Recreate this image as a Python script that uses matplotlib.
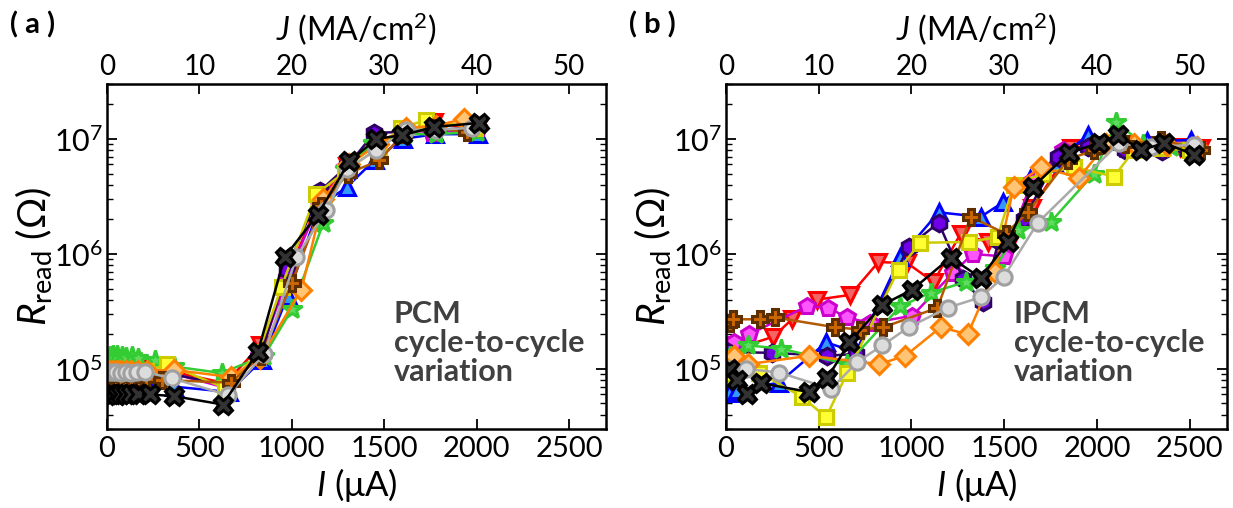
import matplotlib
matplotlib.use("Agg")
import matplotlib.pyplot as plt
from matplotlib.ticker import LogLocator, NullFormatter, FixedLocator

plt.rcParams['font.family'] = ['Lato', 'DejaVu Sans']
plt.rcParams['mathtext.fontset'] = 'custom'
plt.rcParams['mathtext.rm'] = 'Lato'
plt.rcParams['mathtext.it'] = 'Lato:italic'
plt.rcParams['mathtext.bf'] = 'Lato:bold'

# ---- panel (a): PCM, current (uA) and read resistance (Ohm) per cycle ----
a_red_I = [10, 30, 50, 75, 100, 130, 165, 210, 350, 640, 830, 985, 1150, 1300, 1460, 1610, 1770, 2000]
a_red_R = [1.1e5, 1.08e5, 1.1e5, 1.05e5, 1.05e5, 1.0e5, 1.0e5, 1.0e5, 9.5e4, 7.5e4, 1.6e5, 7.0e5, 3.0e6, 5.8e6, 9.5e6, 1.15e7, 1.4e7, 1.2e7]
a_blue_I = [12, 32, 52, 78, 102, 132, 168, 215, 365, 660, 840, 977, 1150, 1296, 1450, 1600, 1775, 2010]
a_blue_R = [8.0e4, 8.2e4, 8.0e4, 7.8e4, 8.0e4, 7.9e4, 7.7e4, 7.6e4, 7.0e4, 6.3e4, 1.2e5, 4.3e5, 2.6e6, 3.8e6, 6.6e6, 1.0e7, 1.1e7, 1.1e7]
a_mag_I = [8, 28, 48, 72, 98, 128, 160, 205, 345, 650, 825, 975, 1145, 1290, 1455, 1605, 1760, 2005]
a_mag_R = [1.05e5, 1.02e5, 1.0e5, 1.0e5, 1.0e5, 9.8e4, 9.6e4, 9.5e4, 9.2e4, 6.8e4, 1.3e5, 6.2e5, 2.7e6, 5.6e6, 9.8e6, 1.1e7, 1.12e7, 1.25e7]
a_pur_I = [10, 30, 50, 75, 100, 130, 165, 210, 355, 645, 835, 972, 1150, 1300, 1447, 1600, 1770, 1995]
a_pur_R = [1.0e5, 1.0e5, 1.02e5, 1.0e5, 1.0e5, 1.0e5, 1.0e5, 9.8e4, 9.0e4, 7.2e4, 1.35e5, 7.3e5, 3.5e6, 5.8e6, 1.13e7, 1.15e7, 1.2e7, 1.25e7]
a_grn_I = [15, 35, 55, 80, 105, 135, 170, 260, 360, 620, 850, 1000, 1170, 1285, 1440, 1610, 1780, 2000]
a_grn_R = [1.3e5, 1.32e5, 1.33e5, 1.3e5, 1.28e5, 1.3e5, 1.25e5, 1.2e5, 1.05e5, 9.2e4, 1.3e5, 3.3e5, 1.85e6, 5.5e6, 9.3e6, 1.1e7, 1.1e7, 1.15e7]
a_yel_I = [10, 30, 50, 75, 100, 130, 165, 210, 324, 640, 820, 945, 1130, 1290, 1470, 1590, 1728, 1990]
a_yel_R = [9.0e4, 9.2e4, 9.0e4, 9.0e4, 9.2e4, 9.0e4, 9.0e4, 9.5e4, 1.1e5, 6.8e4, 1.4e5, 5.2e5, 3.3e6, 5.2e6, 8.5e6, 1.25e7, 1.46e7, 1.25e7]
a_org_I = [12, 32, 52, 78, 102, 132, 168, 215, 360, 670, 830, 1052, 1170, 1310, 1465, 1620, 1780, 1934]
a_org_R = [9.5e4, 9.6e4, 9.5e4, 9.5e4, 9.6e4, 9.5e4, 9.5e4, 9.6e4, 9.8e4, 8.5e4, 1.25e5, 4.9e5, 3.0e6, 6.0e6, 9.0e6, 1.25e7, 1.3e7, 1.5e7]
a_brn_I = [10, 30, 50, 75, 100, 130, 165, 210, 297, 670, 835, 1000, 1160, 1302, 1474, 1600, 1770, 1950]
a_brn_R = [8.5e4, 8.6e4, 8.5e4, 8.4e4, 8.5e4, 8.4e4, 8.3e4, 8.2e4, 8.0e4, 7.6e4, 1.3e5, 5.6e5, 2.6e6, 5.0e6, 6.5e6, 1.1e7, 1.25e7, 1.15e7]
a_gry_I = [10, 30, 50, 75, 100, 130, 160, 205, 350, 655, 850, 1025, 1187, 1300, 1457, 1620, 1780, 1977]
a_gry_R = [9.4e4, 9.4e4, 9.4e4, 9.3e4, 9.4e4, 9.3e4, 9.4e4, 9.4e4, 8.3e4, 5.9e4, 1.35e5, 9.4e5, 2.4e6, 5.5e6, 8.0e6, 1.2e7, 1.2e7, 1.25e7]
a_blk_I = [10, 30, 55, 75, 100, 130, 165, 230, 360, 626, 816, 961, 1140, 1312, 1458, 1598, 1771, 2014]
a_blk_R = [6.0e4, 6.0e4, 5.9e4, 6.0e4, 6.1e4, 6.0e4, 6.0e4, 6.0e4, 5.8e4, 4.9e4, 1.4e5, 9.4e5, 2.2e6, 6.4e6, 1.0e7, 1.08e7, 1.27e7, 1.38e7]

# ---- panel (b): IPCM ----
b_red_I = [20, 80, 254, 356, 490, 670, 822, 978, 1119, 1265, 1410, 1535, 1650, 1860, 2000, 2150, 2300, 2450, 2560]
b_red_R = [1.5e5, 1.55e5, 1.9e5, 2.7e5, 4.0e5, 4.4e5, 8.5e5, 8.3e5, 5.7e5, 1.5e6, 1.27e6, 1.3e6, 2.5e6, 8.3e6, 8.8e6, 9.0e6, 8.8e6, 8.5e6, 8.3e6]
b_blue_I = [16, 60, 286, 540, 700, 940, 1146, 1373, 1492, 1640, 1767, 1951, 2100, 2270, 2508]
b_blue_R = [6.2e4, 6.5e4, 7.6e4, 1.7e5, 1.4e5, 9.4e5, 2.3e6, 2.1e6, 2.8e6, 4.5e6, 6.2e6, 1.08e7, 9.5e6, 9.5e6, 9.8e6]
b_mag_I = [10, 43, 124, 437, 551, 653, 778, 1005, 1222, 1330, 1497, 1650, 1816, 1990, 2150, 2330, 2500]
b_mag_R = [1.6e5, 1.7e5, 2.0e5, 3.5e5, 3.4e5, 2.8e5, 2.5e5, 2.9e5, 6.8e5, 1.0e6, 9.5e5, 4.3e6, 8.0e6, 8.5e6, 8.2e6, 8.5e6, 8.0e6]
b_pur_I = [10, 249, 546, 700, 984, 1146, 1280, 1384, 1470, 1605, 1788, 1950, 2150, 2350, 2490]
b_pur_R = [1.4e5, 1.38e5, 1.3e5, 1.35e5, 1.15e6, 1.87e6, 6.0e5, 3.8e5, 1.3e6, 2.0e6, 7.0e6, 8.5e6, 8.0e6, 7.8e6, 7.8e6]
b_grn_I = [20, 120, 297, 653, 940, 1103, 1292, 1450, 1573, 1751, 1984, 2103, 2250, 2400, 2540]
b_grn_R = [1.3e5, 1.6e5, 1.5e5, 1.1e5, 3.5e5, 4.6e5, 5.7e5, 7.5e5, 1.6e6, 1.9e6, 5.0e6, 1.4e7, 9.0e6, 8.5e6, 7.8e6]
b_yel_I = [10, 178, 410, 540, 654, 930, 1048, 1308, 1464, 1551, 1708, 1876, 2092, 2200, 2350, 2500]
b_yel_R = [9.0e4, 9.3e4, 5.7e4, 3.8e4, 9.3e4, 7.3e5, 1.25e6, 1.27e6, 1.4e6, 4.0e6, 5.0e6, 5.7e6, 4.7e6, 8.0e6, 8.3e6, 8.0e6]
b_org_I = [43, 120, 448, 827, 967, 1157, 1303, 1450, 1551, 1697, 1903, 2050, 2200, 2380, 2540]
b_org_R = [1.3e5, 1.1e5, 1.3e5, 1.1e5, 1.3e5, 2.3e5, 2.0e5, 7.0e5, 3.8e6, 5.7e6, 4.6e6, 9.0e6, 9.0e6, 8.8e6, 8.5e6]
b_brn_I = [20, 38, 184, 265, 589, 724, 848, 1140, 1319, 1508, 1627, 1843, 1984, 2150, 2346, 2562]
b_brn_R = [2.5e5, 2.7e5, 2.7e5, 2.8e5, 2.3e5, 2.2e5, 2.3e5, 3.4e5, 2.1e6, 1.5e6, 2.3e6, 6.6e6, 8.0e6, 9.0e6, 9.8e6, 8.0e6]
b_gry_I = [20, 108, 286, 567, 708, 843, 984, 1195, 1373, 1497, 1681, 2119, 2290, 2524]
b_gry_R = [1.0e5, 1.0e5, 9.3e4, 6.7e4, 1.15e5, 1.6e5, 2.3e5, 3.4e5, 4.2e5, 6.3e5, 1.87e6, 9.2e6, 8.5e6, 8.9e6]
b_blk_I = [16, 59, 113, 189, 448, 546, 665, 843, 1005, 1211, 1373, 1519, 1654, 1849, 2011, 2114, 2238, 2362, 2524]
b_blk_R = [1.0e5, 8.0e4, 6.0e4, 7.5e4, 6.3e4, 8.3e4, 1.7e5, 3.6e5, 4.9e5, 9.3e5, 6.2e5, 1.27e6, 3.8e6, 7.6e6, 9.2e6, 1.08e7, 8.0e6, 9.2e6, 7.3e6]

# marker, edge colour, face colour, marker size
styles = [
    ('v', '#ff0000', '#f26565', 12),
    ('^', '#0000ff', '#3399ff', 12),
    ('p', '#cc00cc', '#ff55ff', 12),
    ('h', '#2e0066', '#7000e8', 12),
    ('*', '#33cc33', '#5ddc5d', 15),
    ('s', '#cccc00', '#ffff33', 10),
    ('D', '#ff7f00', '#ffc474', 10),
    ('P', '#5c2e00', '#cc6600', 12),
    ('o', '#a0a0a0', '#dcdcdc', 11),
    ('X', '#000000', '#333333', 13),
]
line_cols = ['#ff0000', '#0000ff', '#cc00cc', '#2e0066', '#33cc33', '#cccc00', '#ff7f00', '#b35900', '#aaaaaa', '#000000']

panel_a = [(a_red_I, a_red_R), (a_blue_I, a_blue_R), (a_mag_I, a_mag_R), (a_pur_I, a_pur_R),
           (a_grn_I, a_grn_R), (a_yel_I, a_yel_R), (a_org_I, a_org_R), (a_brn_I, a_brn_R),
           (a_gry_I, a_gry_R), (a_blk_I, a_blk_R)]
panel_b = [(b_red_I, b_red_R), (b_blue_I, b_blue_R), (b_mag_I, b_mag_R), (b_pur_I, b_pur_R),
           (b_grn_I, b_grn_R), (b_yel_I, b_yel_R), (b_org_I, b_org_R), (b_brn_I, b_brn_R),
           (b_gry_I, b_gry_R), (b_blk_I, b_blk_R)]

fig = plt.figure(figsize=(12.33, 5.08), dpi=100)
ax_a = fig.add_axes([0.0868, 0.1555, 0.4047, 0.679])
ax_b = fig.add_axes([0.5888, 0.1555, 0.4062, 0.679])

for ax, data, label, tag in [(ax_a, panel_a, 'PCM\ncycle-to-cycle\nvariation', '( a )'),
                             (ax_b, panel_b, 'IPCM\ncycle-to-cycle\nvariation', '( b )')]:
    for (I, R), (m, ec, fc, ms), lc in zip(data, styles, line_cols):
        ax.plot(I, R, '-', color=lc, lw=1.8, marker=m, ms=ms, mfc=fc, mec=ec, mew=2.2)
    ax.set_yscale('log')
    ax.set_xlim(0, 2700)
    ax.set_ylim(3e4, 3e7)
    ax.xaxis.set_major_locator(FixedLocator([0, 500, 1000, 1500, 2000, 2500]))
    ax.yaxis.set_major_locator(LogLocator(base=10, numticks=10))
    ax.yaxis.set_minor_locator(LogLocator(base=10, subs=range(2, 10), numticks=10))
    ax.yaxis.set_minor_formatter(NullFormatter())
    ax.tick_params(axis='both', which='major', direction='in', length=7, width=1.3, right=True)
    ax.tick_params(axis='x', which='major', labelsize=21, pad=5)
    ax.tick_params(axis='y', which='major', labelsize=22, pad=3)
    ax.tick_params(axis='y', which='minor', direction='in', length=4, width=1, right=True)
    for s in ax.spines.values():
        s.set_linewidth(1.8)
    ax.set_xlabel(r'$I$ ($\mathrm{\mu}$A)', fontsize=25, labelpad=3)
    ax.set_ylabel(r'$R_{\mathrm{read}}$ ($\Omega$)', fontsize=28, labelpad=0)

    top = ax.secondary_xaxis('top', functions=(lambda x: x / 50.0, lambda x: x * 50.0))
    top.set_xticks([0, 10, 20, 30, 40, 50])
    top.tick_params(direction='in', length=7, width=1.3, labelsize=20, pad=3)
    top.set_xlabel(r'$J$ (MA/cm$^2$)', fontsize=23, labelpad=9)

    ax.text(0.575, 0.375, label, transform=ax.transAxes, fontsize=22, fontweight='bold',
            color='#404040', va='top', ha='left', linespacing=1.05)
    bb = ax.get_position()
    fig.text(bb.x0 - 0.079, 0.925, tag, fontsize=21, fontweight='bold', ha='left', va='bottom')

fig.savefig('out.png', dpi=100)
